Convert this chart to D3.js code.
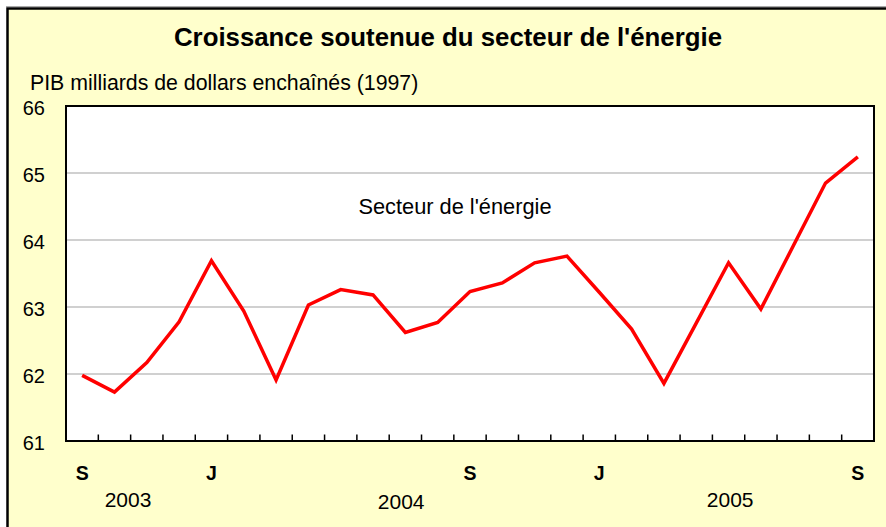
<!DOCTYPE html>
<html>
<head>
<meta charset="utf-8">
<script src="https://cdn.jsdelivr.net/npm/d3@7"></script>
<style>
  body { margin: 0; background: #fff; }
  text { font-family: "Liberation Sans", Arial, sans-serif; fill: #000; }
</style>
</head>
<body>
<svg id="chart" width="886" height="527"></svg>
<script>
// monthly GDP, energy sector, Sep 2003 .. Sep 2005
var months = ["2003-09","2003-10","2003-11","2003-12","2004-01","2004-02","2004-03","2004-04",
  "2004-05","2004-06","2004-07","2004-08","2004-09","2004-10","2004-11","2004-12",
  "2005-01","2005-02","2005-03","2005-04","2005-05","2005-06","2005-07","2005-08","2005-09"];
var values = [61.98, 61.73, 62.17, 62.78, 63.69, 62.94, 61.91, 63.03, 63.26, 63.18, 62.62, 62.77,
  63.23, 63.36, 63.66, 63.76, 63.22, 62.67, 61.86, 62.76, 63.66, 62.97, 63.91, 64.85, 65.24];
var monthLabels = ["S","","","","J","","","","","","","","S","","","","J","","","","","","","","S"];
var years = ["2003", "2004", "2005"];
var yearAt = [1.42, 9.87, 20.05];   // month index the year label sits under
var yTicks = [61, 62, 63, 64, 65, 66];

var svg = d3.select("#chart");
var W = 886, H = 527;
var m = {left: 66, top: 106, right: 874, bottom: 441};

// outer frame
svg.append("line").attr("x1", 6).attr("x2", W).attr("y1", 6.5).attr("y2", 6.5)
  .attr("stroke", "#aaa").attr("stroke-width", 1);
svg.append("rect").attr("x", 7.5).attr("y", 8.5).attr("width", W + 10).attr("height", H + 10)
  .attr("fill", "#FFFFCC").attr("stroke", "#000").attr("stroke-width", 2.5);

var x = d3.scaleBand().domain(months).range([m.left, m.right]);
var y = d3.scaleLinear().domain([61, 66]).range([m.bottom, m.top]);

svg.append("rect").attr("x", m.left).attr("y", m.top)
  .attr("width", m.right - m.left).attr("height", m.bottom - m.top)
  .attr("fill", "#fff");

// gridlines
svg.append("g").selectAll("line").data(yTicks.slice(1, -1)).join("line")
  .attr("x1", m.left).attr("x2", m.right)
  .attr("y1", function(d) { return y(d); }).attr("y2", function(d) { return y(d); })
  .attr("stroke", "#c0c0c0").attr("stroke-width", 1.5);

// frame of plot
svg.append("rect").attr("x", m.left).attr("y", m.top)
  .attr("width", m.right - m.left).attr("height", m.bottom - m.top)
  .attr("fill", "none").attr("stroke", "#000").attr("stroke-width", 2);

// tick marks between months, pointing up
svg.append("g").selectAll("line").data(months.slice(1)).join("line")
  .attr("x1", function(d) { return x(d); }).attr("x2", function(d) { return x(d); })
  .attr("y1", m.bottom).attr("y2", m.bottom - 6.5)
  .attr("stroke", "#000").attr("stroke-width", 1.5);

// y labels
svg.append("g").selectAll("text").data(yTicks).join("text")
  .attr("x", 45).attr("y", function(d) { return y(d) + 2; })
  .attr("dy", "0.35em").attr("text-anchor", "end")
  .style("font-size", "20px")
  .text(function(d) { return d; });

// month labels
svg.append("g").selectAll("text").data(months).join("text")
  .attr("x", function(d) { return x(d) + x.bandwidth() / 2; })
  .attr("y", 480).attr("text-anchor", "middle")
  .style("font-size", "19.5px").style("font-weight", "bold")
  .text(function(d, i) { return monthLabels[i]; });

// year labels
svg.append("g").selectAll("text").data(years).join("text")
  .attr("x", function(d, i) { return m.left + x.step() * (yearAt[i] + 0.5); })
  .attr("y", function(d, i) { return i == 1 ? 509 : 507; })
  .attr("text-anchor", "middle")
  .style("font-size", "21px")
  .text(function(d) { return d; });

// series line
var line = d3.line()
  .x(function(d, i) { return x(months[i]) + x.bandwidth() / 2; })
  .y(function(d) { return y(d); });
svg.append("path").datum(values).attr("d", line)
  .attr("fill", "none").attr("stroke", "#ff0000").attr("stroke-width", 3.5)
  .attr("stroke-linejoin", "miter");

// titles
svg.append("text").attr("x", 448).attr("y", 46).attr("text-anchor", "middle")
  .style("font-size", "25.8px").style("font-weight", "bold")
  .text("Croissance soutenue du secteur de l'énergie");
svg.append("text").attr("x", 30).attr("y", 90)
  .style("font-size", "21.3px")
  .text("PIB milliards de dollars enchaînés (1997)");
svg.append("text").attr("x", 455).attr("y", 214).attr("text-anchor", "middle")
  .style("font-size", "21.8px")
  .text("Secteur de l'énergie");
</script>
</body>
</html>
